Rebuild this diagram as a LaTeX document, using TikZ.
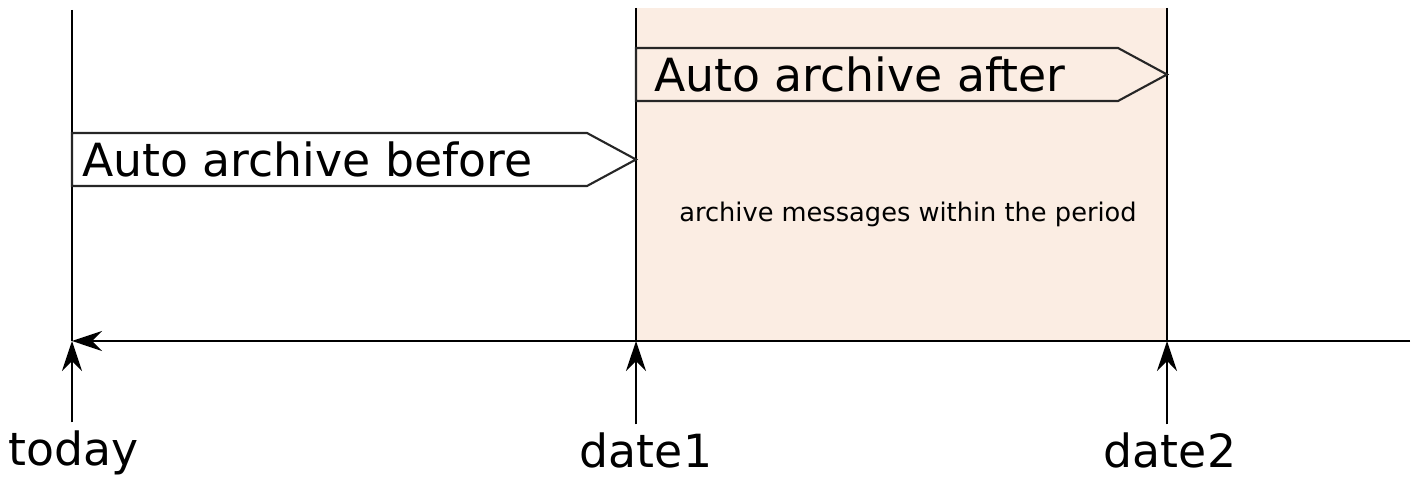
\documentclass[tikz,border=0pt]{standalone}
\usepackage{fontspec}
\setmainfont{DejaVu Sans}
\usetikzlibrary{arrows.meta,positioning}
\definecolor{periodfill}{HTML}{FBEDE3}

\begin{document}
\begin{tikzpicture}[
    x=0.01cm, y=-0.01cm,
    tl/.style={line width=0.6pt, black},
    tip/.style={-{Stealth[length=0.3cm, width=0.2cm, inset=0.1cm]}},
    lbl/.style={font=\fontsize{13}{15}\selectfont, inner sep=0pt, outer sep=2.5pt},
    tag/.style={draw, line width=0.6pt, black!85}
]
\useasboundingbox (0,0) rectangle (1419,477);
\fill[periodfill] (636,8) rectangle (1167,341);

\coordinate (t0) at (72,341);
\coordinate (d1) at (636,341);
\coordinate (d2) at (1167,341);
\coordinate (axend) at (1410,341);

\draw[tl] (72,10) -- (t0);
\draw[tl] (636,8) -- (d1);
\draw[tl] (1167,8) -- (d2);

\draw[tag, fill=white] (72,133) -- (587,133) -- (636,159.5) -- (587,186) -- (72,186) -- cycle;
\draw[tag, fill=periodfill] (636,48) -- (1118,48) -- (1167,74.5) -- (1118,101) -- (636,101) -- cycle;
\node[lbl, anchor=base west, outer sep=0pt] (before) at (82,177) {Auto archive before};
\node[lbl, anchor=base west, outer sep=0pt] (after) at (654,92) {Auto archive after};
\node[font=\fontsize{7.3}{9}\selectfont] (msg) at (908,214) {archive messages within the period};

\draw[tl, tip] (axend) -- (t0);

\node[lbl, anchor=base] (today) at (73.5,466) {today};
\node[lbl, anchor=base] (date1) at (646,468) {date1};
\node[lbl, anchor=base] (date2) at (1170,468) {date2};

\draw[tl, tip] (today.north -| t0) -- (t0);
\draw[tl, tip] (date1.north -| d1) -- (d1);
\draw[tl, tip] (date2.north -| d2) -- (d2);
\end{tikzpicture}
\end{document}
